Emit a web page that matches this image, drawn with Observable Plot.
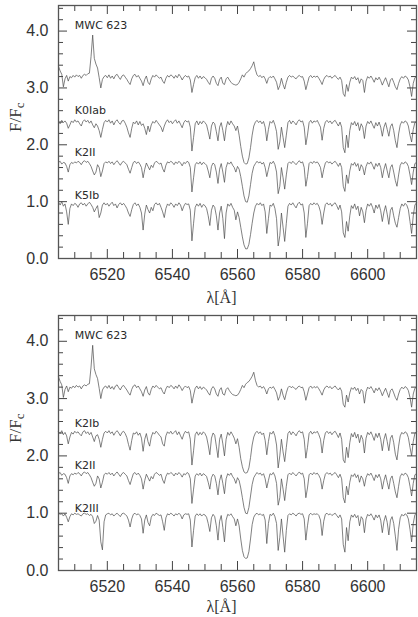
<!DOCTYPE html>
<html>
<head>
<meta charset="utf-8">
<script src="https://cdn.jsdelivr.net/npm/d3@7"></script>
<script src="https://cdn.jsdelivr.net/npm/@observablehq/plot@0.6"></script>
<style>
  html, body { margin: 0; padding: 0; background: #fff; }
  #chart svg { display: block; }
</style>
</head>
<body>
<div id="chart"></div>
<script>
// Sampling grid of the spectra (Angstrom): 6505.0 ... 6615.0 every 0.5
const lambdaStart = 6505;
const lambdaStep = 0.5;

// Normalized fluxes F/Fc (one value per 0.5 A)
const fluxMWC623 = [
  1.18,1.10,1.04,0.82,0.96,1.02,0.92,1.00,0.98,1.02,
  0.99,1.03,1.00,1.02,0.97,1.02,1.04,1.02,1.05,1.06,
  1.35,1.73,1.32,1.22,1.15,0.98,0.80,0.95,1.00,1.02,
  0.98,1.03,0.97,1.01,0.96,1.02,1.04,0.99,0.95,1.01,
  1.03,0.99,0.95,0.90,0.86,0.96,1.02,1.04,0.99,1.02,
  0.97,0.92,0.84,0.95,1.01,0.90,0.86,0.96,1.02,0.99,
  1.03,1.00,0.97,0.99,0.92,0.88,0.97,1.02,0.99,1.03,
  1.01,0.97,1.02,0.98,1.04,1.00,0.94,0.99,1.02,0.99,
  1.01,0.94,0.72,0.86,0.98,1.02,0.97,1.01,0.96,1.00,
  0.98,0.95,0.90,0.86,0.97,1.01,0.97,0.88,0.84,0.95,
  0.99,0.88,0.86,0.96,0.99,0.94,0.90,0.87,0.86,0.85,
  0.86,0.90,0.96,1.03,0.99,1.05,1.08,1.10,1.14,1.19,
  1.26,1.12,1.03,1.00,1.02,0.98,1.01,0.96,0.88,0.97,
  1.00,0.98,1.01,0.96,0.90,0.77,0.84,0.97,0.86,0.78,
  0.90,0.99,1.02,0.99,1.01,0.98,0.96,1.00,1.02,0.99,
  1.00,0.92,0.77,0.88,0.99,1.02,0.98,1.01,0.99,1.01,
  0.97,0.92,0.86,0.95,1.00,1.02,0.99,1.01,0.97,1.00,
  1.02,0.98,0.95,0.99,0.93,0.70,0.65,0.86,0.74,0.90,
  0.99,0.96,1.00,0.94,0.98,0.88,0.96,0.93,0.72,0.92,
  1.00,0.97,1.01,0.96,0.90,0.98,0.94,0.99,0.93,0.85,
  0.92,0.98,0.90,0.82,0.94,0.97,0.90,0.82,0.77,0.88,
  0.96,1.00,0.97,1.01,0.99,0.94,0.82,0.65,0.88,0.98,
  1.00
];
const fluxK0Iab = [
  0.96,0.92,0.98,0.94,0.97,0.93,0.84,0.90,0.97,0.94,
  0.99,0.95,0.97,0.92,0.88,0.96,0.99,0.95,0.98,0.93,
  0.97,0.90,0.85,0.92,0.88,0.80,0.68,0.82,0.94,0.98,
  0.95,0.99,0.93,0.97,0.90,0.96,0.99,0.94,0.91,0.97,
  0.98,0.93,0.86,0.76,0.68,0.84,0.95,0.92,0.97,0.90,
  0.96,0.89,0.92,0.84,0.73,0.88,0.78,0.90,0.96,0.93,
  0.98,0.94,0.90,0.86,0.78,0.88,0.95,0.99,0.94,0.97,
  0.92,0.96,0.99,0.93,0.97,0.91,0.85,0.94,0.98,0.95,
  0.97,0.86,0.44,0.68,0.92,0.97,0.90,0.96,0.92,0.97,
  0.94,0.90,0.78,0.65,0.88,0.95,0.92,0.78,0.62,0.86,
  0.94,0.80,0.62,0.85,0.96,0.90,0.97,0.92,0.88,0.80,
  0.88,0.72,0.52,0.35,0.24,0.21,0.22,0.32,0.50,0.72,
  0.88,0.95,0.98,0.94,0.97,0.92,0.96,0.86,0.62,0.82,
  0.96,0.93,0.98,0.90,0.78,0.47,0.60,0.86,0.68,0.50,
  0.72,0.94,0.98,0.92,0.97,0.94,0.90,0.96,0.99,0.95,
  0.97,0.86,0.55,0.72,0.94,0.98,0.93,0.97,0.95,0.98,
  0.92,0.86,0.63,0.84,0.95,0.98,0.94,0.97,0.92,0.96,
  0.98,0.93,0.88,0.95,0.86,0.50,0.41,0.72,0.50,0.80,
  0.94,0.90,0.96,0.88,0.94,0.80,0.92,0.86,0.66,0.88,
  0.96,0.92,0.97,0.90,0.84,0.94,0.88,0.95,0.86,0.70,
  0.86,0.94,0.82,0.70,0.87,0.92,0.80,0.62,0.50,0.74,
  0.90,0.96,0.93,0.97,0.95,0.88,0.72,0.60,0.82,0.94,
  0.96
];
const fluxK2II = [
  0.97,0.99,0.94,0.97,0.96,0.90,0.80,0.93,0.97,0.95,
  0.98,0.96,0.99,0.97,0.93,0.98,1.00,0.97,0.99,0.95,
  0.90,0.82,0.75,0.80,0.93,0.88,0.72,0.82,0.95,0.98,
  0.96,0.99,0.95,0.98,0.93,0.97,1.00,0.96,0.92,0.97,
  0.99,0.96,0.93,0.85,0.78,0.88,0.97,0.99,0.95,0.98,
  0.94,0.88,0.70,0.85,0.96,0.90,0.84,0.92,0.88,0.96,
  0.99,0.97,0.94,0.96,0.86,0.80,0.92,0.98,0.96,0.99,
  0.97,0.93,0.98,0.95,0.99,0.96,0.91,0.97,0.95,0.99,
  0.97,0.88,0.45,0.70,0.93,0.97,0.94,0.98,0.93,0.97,
  0.95,0.92,0.82,0.70,0.90,0.96,0.93,0.80,0.60,0.85,
  0.95,0.80,0.62,0.88,0.97,0.94,0.98,0.92,0.88,0.80,
  0.90,0.85,0.72,0.55,0.38,0.28,0.27,0.38,0.58,0.78,
  0.90,0.95,0.99,0.96,0.98,0.94,0.97,0.88,0.72,0.85,
  0.97,0.95,0.99,0.93,0.80,0.42,0.55,0.88,0.70,0.50,
  0.75,0.95,0.98,0.95,0.99,0.96,0.93,0.97,1.00,0.96,
  0.98,0.88,0.55,0.72,0.95,0.98,0.95,0.99,0.96,0.98,
  0.94,0.88,0.70,0.85,0.96,0.99,0.96,0.98,0.94,0.97,
  0.99,0.95,0.90,0.96,0.88,0.55,0.46,0.75,0.60,0.82,
  0.95,0.92,0.97,0.90,0.95,0.82,0.93,0.88,0.75,0.90,
  0.97,0.94,0.98,0.92,0.85,0.95,0.90,0.96,0.88,0.70,
  0.85,0.95,0.82,0.70,0.88,0.93,0.80,0.65,0.55,0.75,
  0.92,0.97,0.94,0.98,0.96,0.90,0.75,0.58,0.80,0.95,
  0.97
];
const fluxK5Ib = [
  0.99,0.94,1.00,0.92,0.96,0.82,0.60,0.88,0.96,0.93,
  0.97,0.95,0.90,0.96,0.98,0.94,0.97,0.92,0.96,0.99,
  0.95,0.90,0.82,0.88,0.93,0.72,0.80,0.94,0.98,0.94,
  0.97,0.92,0.96,0.99,0.93,0.96,0.89,0.95,0.98,0.94,
  0.97,0.93,0.88,0.80,0.74,0.86,0.95,0.98,0.93,0.96,
  0.90,0.80,0.50,0.78,0.94,0.86,0.80,0.90,0.84,0.95,
  0.98,0.94,0.97,0.90,0.82,0.72,0.88,0.96,0.93,0.98,
  0.95,0.90,0.96,0.93,0.98,0.94,0.84,0.92,0.97,0.95,
  0.96,0.85,0.31,0.62,0.90,0.96,0.92,0.97,0.90,0.95,
  0.93,0.88,0.75,0.58,0.85,0.94,0.90,0.75,0.50,0.80,
  0.92,0.70,0.35,0.80,0.96,0.92,0.97,0.90,0.85,0.68,
  0.82,0.72,0.55,0.38,0.24,0.17,0.17,0.25,0.42,0.62,
  0.80,0.92,0.97,0.94,0.98,0.93,0.96,0.82,0.44,0.70,
  0.94,0.92,0.97,0.88,0.70,0.22,0.40,0.80,0.55,0.30,
  0.62,0.92,0.97,0.94,0.98,0.93,0.89,0.96,0.99,0.94,
  0.96,0.80,0.37,0.62,0.93,0.97,0.94,0.98,0.95,0.97,
  0.92,0.82,0.60,0.80,0.95,0.98,0.94,0.97,0.92,0.96,
  0.98,0.93,0.86,0.94,0.82,0.45,0.37,0.65,0.48,0.75,
  0.93,0.88,0.96,0.86,0.92,0.75,0.90,0.82,0.63,0.85,
  0.96,0.92,0.97,0.90,0.80,0.94,0.88,0.95,0.84,0.65,
  0.82,0.93,0.78,0.60,0.85,0.90,0.75,0.62,0.55,0.72,
  0.88,0.96,0.92,0.97,0.94,0.86,0.65,0.44,0.75,0.94,
  0.98
];
const fluxK2Ib = [
  0.97,0.94,0.99,0.92,0.96,0.90,0.76,0.88,0.96,0.93,
  0.98,0.95,0.97,0.93,0.90,0.97,0.99,0.94,0.97,0.92,
  0.96,0.88,0.80,0.90,0.92,0.84,0.70,0.84,0.95,0.98,
  0.95,0.99,0.94,0.97,0.91,0.96,0.99,0.95,0.90,0.96,
  0.98,0.94,0.87,0.75,0.65,0.82,0.95,0.93,0.97,0.91,
  0.95,0.86,0.63,0.84,0.94,0.80,0.72,0.88,0.96,0.93,
  0.98,0.95,0.91,0.88,0.76,0.72,0.90,0.97,0.94,0.98,
  0.93,0.96,0.99,0.92,0.97,0.90,0.84,0.93,0.98,0.95,
  0.97,0.84,0.39,0.64,0.92,0.97,0.91,0.96,0.92,0.97,
  0.94,0.88,0.74,0.57,0.86,0.95,0.91,0.72,0.52,0.84,
  0.93,0.76,0.55,0.84,0.96,0.91,0.97,0.92,0.86,0.76,
  0.85,0.70,0.50,0.36,0.27,0.25,0.26,0.34,0.52,0.74,
  0.88,0.95,0.98,0.94,0.97,0.92,0.95,0.82,0.57,0.80,
  0.96,0.93,0.98,0.90,0.74,0.34,0.55,0.84,0.62,0.45,
  0.70,0.94,0.98,0.92,0.97,0.94,0.90,0.96,0.99,0.95,
  0.97,0.84,0.51,0.70,0.94,0.98,0.93,0.97,0.95,0.98,
  0.92,0.84,0.60,0.82,0.95,0.98,0.94,0.97,0.92,0.96,
  0.98,0.93,0.87,0.95,0.84,0.48,0.43,0.70,0.52,0.78,
  0.94,0.88,0.96,0.86,0.93,0.78,0.91,0.84,0.60,0.86,
  0.96,0.92,0.97,0.90,0.82,0.94,0.87,0.95,0.84,0.64,
  0.84,0.94,0.80,0.64,0.86,0.91,0.78,0.58,0.48,0.72,
  0.90,0.96,0.93,0.97,0.95,0.87,0.70,0.55,0.80,0.94,
  0.97
];
const fluxK2III = [
  1.00,0.98,0.99,0.95,0.99,0.93,0.85,0.94,0.99,0.97,
  1.00,0.98,0.99,0.97,0.95,0.99,1.00,0.98,0.99,0.96,
  0.98,0.94,0.82,0.86,0.96,0.88,0.50,0.36,0.85,0.97,
  0.99,1.00,0.97,0.99,0.95,0.98,1.00,0.97,0.94,0.99,
  1.00,0.98,0.95,0.88,0.76,0.90,0.98,1.00,0.97,0.99,
  0.96,0.90,0.65,0.88,0.97,0.84,0.78,0.93,0.98,0.96,
  1.00,0.98,0.96,0.97,0.85,0.70,0.92,0.99,0.97,1.00,
  0.98,0.95,0.99,0.97,1.00,0.97,0.90,0.97,0.99,0.98,
  0.99,0.88,0.41,0.70,0.95,0.99,0.96,0.99,0.95,0.98,
  0.97,0.93,0.82,0.68,0.92,0.98,0.94,0.78,0.53,0.86,
  0.96,0.75,0.50,0.88,0.98,0.96,0.99,0.94,0.90,0.78,
  0.90,0.78,0.55,0.35,0.24,0.21,0.22,0.33,0.55,0.80,
  0.93,0.98,1.00,0.97,0.99,0.96,0.98,0.88,0.47,0.82,
  0.98,0.96,1.00,0.94,0.82,0.35,0.58,0.90,0.60,0.32,
  0.70,0.96,0.99,0.97,1.00,0.98,0.95,0.99,1.00,0.98,
  0.99,0.90,0.53,0.78,0.97,1.00,0.97,0.99,0.98,0.99,
  0.96,0.88,0.61,0.86,0.98,1.00,0.97,0.99,0.96,0.98,
  1.00,0.96,0.92,0.97,0.90,0.45,0.32,0.75,0.52,0.85,
  0.97,0.93,0.98,0.92,0.96,0.78,0.94,0.90,0.66,0.90,
  0.98,0.95,0.99,0.94,0.88,0.97,0.92,0.97,0.88,0.66,
  0.86,0.96,0.84,0.62,0.88,0.94,0.82,0.60,0.35,0.72,
  0.92,0.98,0.95,0.99,0.97,0.90,0.72,0.50,0.82,0.97,
  1.00
];

// Panels: star names, vertical offsets of each spectrum, and their flux arrays
const topStars = ["MWC 623", "K0Iab", "K2II", "K5Ib"];
const topOffsets = [2.2, 1.45, 0.72, 0];
const topFluxes = [fluxMWC623, fluxK0Iab, fluxK2II, fluxK5Ib];

const bottomStars = ["MWC 623", "K2Ib", "K2II", "K2III"];
const bottomOffsets = [2.2, 1.45, 0.72, 0];
const bottomFluxes = [fluxMWC623, fluxK2Ib, fluxK2II, fluxK2III];

// Tick values
const xTickLabels = [6520, 6540, 6560, 6580, 6600];
const xMinorTicks = d3.range(6510, 6615, 5);
const yTickLabels = [0, 1, 2, 3, 4];
const yMinorTicks = d3.range(1, 23).map(i => +(i * 0.2).toFixed(1));

// Annotation positions (data units) for the star labels
const labelLambda = 6510;
const topLabelY = [4.09, 2.60, 1.86, 1.10];
const bottomLabelY = [4.10, 2.56, 1.84, 1.09];

const W = 418;
const inkLine = "#4a4a4a";
const inkText = "#2a2a2a";

function panel(stars, offsets, fluxes, labelY, height, marginTop, marginBottom, xLabelDy) {
  const marginLeft = 58, marginRight = 2;
  const plotH = height - marginTop - marginBottom;
  const plotW = W - marginLeft - marginRight;
  const rows = [];
  stars.forEach((s, k) => {
    fluxes[k].forEach((f, i) => {
      rows.push({star: s, lambda: lambdaStart + lambdaStep * i, F: f + offsets[k]});
    });
  });
  const labels = stars.map((s, k) => ({star: s, lambda: labelLambda, y: labelY[k]}));
  const majX = 9, minX = 6, majY = 9, minY = 5;
  const svg = Plot.plot({
    width: W,
    height,
    marginLeft, marginRight, marginTop, marginBottom,
    style: {background: "#fff", overflow: "visible"},
    x: {domain: [6505, 6615]},
    y: {domain: [0, 4.45]},
    marks: [
      Plot.line(rows, {x: "lambda", y: "F", z: "star", stroke: inkLine, strokeWidth: 0.7}),
      Plot.text(labels, {x: "lambda", y: "y", text: "star", textAnchor: "start",
        fontSize: 11, fontFamily: "DejaVu Sans", fill: inkText}),
      // inward ticks on all four sides
      Plot.tickX(xTickLabels, {x: d => d, insetTop: plotH - majX, stroke: "#444"}),
      Plot.tickX(xTickLabels, {x: d => d, insetBottom: plotH - majX, stroke: "#444"}),
      Plot.tickX(xMinorTicks.filter(v => !xTickLabels.includes(v)), {x: d => d, insetTop: plotH - minX, stroke: "#444"}),
      Plot.tickX(xMinorTicks.filter(v => !xTickLabels.includes(v)), {x: d => d, insetBottom: plotH - minX, stroke: "#444"}),
      Plot.tickY(yTickLabels.filter(v => v > 0), {y: d => d, insetRight: plotW - majY, stroke: "#444"}),
      Plot.tickY(yTickLabels.filter(v => v > 0), {y: d => d, insetLeft: plotW - majY, stroke: "#444"}),
      Plot.tickY(yMinorTicks.filter(v => !yTickLabels.includes(v)), {y: d => d, insetRight: plotW - minY, stroke: "#444"}),
      Plot.tickY(yMinorTicks.filter(v => !yTickLabels.includes(v)), {y: d => d, insetLeft: plotW - minY, stroke: "#444"}),
      Plot.axisX(xTickLabels, {tickSize: 0, tickPadding: 10, fontSize: 16, fontFamily: "Liberation Sans", fill: "#333", label: null, tickFormat: d3.format("d")}),
      Plot.axisY(yTickLabels, {tickSize: 0, tickPadding: 10, fontSize: 16, fontFamily: "Liberation Sans", fill: "#333", label: null, tickFormat: d3.format(".1f")}),
      Plot.text(["λ[Å]"], {frameAnchor: "bottom", dx: -16, dy: xLabelDy, fontSize: 16, fontFamily: "Liberation Serif", fill: "#333", lineAnchor: "middle"}),
      Plot.text(["F/Fc"], {frameAnchor: "left", dx: -43, rotate: -90, fontSize: 17, fontFamily: "Liberation Serif", fill: "#333", lineAnchor: "middle"}),
      Plot.frame({stroke: "#555", strokeWidth: 1.3})
    ]
  });
  // make the "c" of F/Fc a subscript
  d3.select(svg).selectAll("text").each(function() {
    const t = d3.select(this);
    if (t.text() === "F/Fc" && t.selectAll("tspan").empty()) {
      t.text("F/F");
      t.append("tspan").attr("font-size", "13").attr("dy", "0.25em").text("c");
    }
  });
  return svg;
}

const chart = document.getElementById("chart");
chart.appendChild(panel(topStars, topOffsets, topFluxes, topLabelY, 308, 5, 50, 39));
chart.appendChild(panel(bottomStars, bottomOffsets, bottomFluxes, bottomLabelY, 309, 7, 47, 36));
</script>
</body>
</html>
